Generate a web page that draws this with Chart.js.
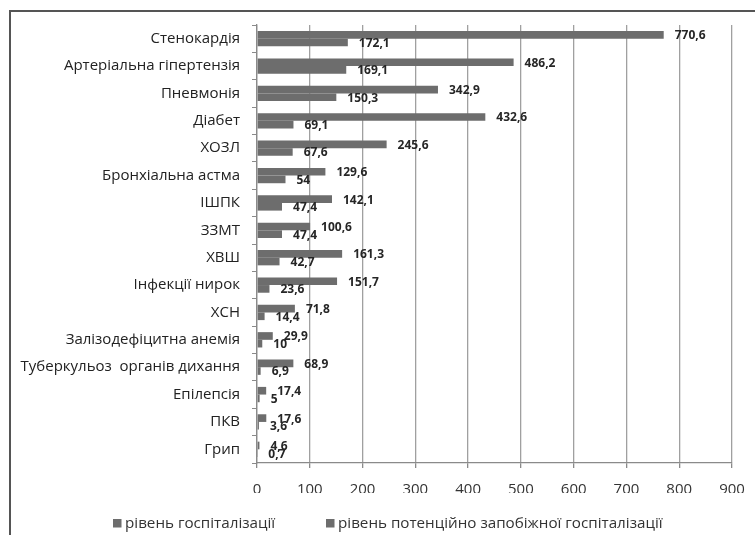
<!DOCTYPE html>
<html>
<head>
<meta charset="utf-8">
<script src="https://cdn.jsdelivr.net/npm/chart.js@4.4.1/dist/chart.umd.min.js"></script>
<style>
html,body{margin:0;padding:0;background:#fff;}
#wrap{position:relative;width:755px;height:535px;overflow:hidden;}
#frame{position:absolute;left:9px;top:10px;width:800px;height:600px;border-top:2px solid #555;border-left:2px solid #555;pointer-events:none;}
canvas{position:absolute;left:0;top:0;}
</style>
</head>
<body>
<div id="wrap">
<canvas id="c" width="755" height="535"></canvas>
<div id="frame"></div>
</div>
<script>
const categories = ["Стенокардія","Артеріальна гіпертензія","Пневмонія","Діабет","ХОЗЛ","Бронхіальна астма","ІШПК","ЗЗМТ","ХВШ","Інфекції нирок","ХСН","Залізодефіцитна анемія","Туберкульоз  органів дихання","Епілепсія","ПКВ","Грип"];
const hospitalization = [770.6,486.2,342.9,432.6,245.6,129.6,142.1,100.6,161.3,151.7,71.8,29.9,68.9,17.4,17.6,4.6];
const preventable = [172.1,169.1,150.3,69.1,67.6,54,47.4,47.4,42.7,23.6,14.4,10,6.9,5,3.6,0.7];
const seriesNames = ["рівень госпіталізації","рівень потенційно запобіжної госпіталізації"];
const xTicks = [0,100,200,300,400,500,600,700,800,900];

const FONT = "'Open Sans', 'Noto Sans', sans-serif";
const BAR = "#6d6d6d";

const valueLabels = {
  id: 'valueLabels',
  afterDatasetsDraw(chart) {
    const ctx = chart.ctx;
    ctx.save();
    ctx.font = "bold 12px " + FONT;
    ctx.fillStyle = "#262626";
    ctx.textAlign = "left";
    ctx.textBaseline = "middle";
    chart.data.datasets.forEach((ds, di) => {
      const meta = chart.getDatasetMeta(di);
      meta.data.forEach((el, i) => {
        const txt = String(ds.data[i]).replace('.', ',');
        ctx.fillText(txt, el.x + 11, el.y + 1);
      });
    });
    ctx.restore();
  }
};

// legend drawn below the x axis, items placed like the reference
const legendPlugin = {
  id: 'customLegend',
  afterDraw(chart) {
    const ctx = chart.ctx;
    const starts = [113, 326];
    const y = 523;
    ctx.save();
    ctx.font = "15.2px " + FONT;
    ctx.textBaseline = "middle";
    ctx.textAlign = "left";
    chart.data.datasets.forEach((ds, i) => {
      ctx.fillStyle = ds.backgroundColor;
      ctx.fillRect(starts[i], y - 4, 8.5, 8.5);
      ctx.fillStyle = "#333";
      ctx.fillText(ds.label, starts[i] + 12, y + 1);
    });
    ctx.restore();
  }
};

new Chart(document.getElementById('c'), {
  type: 'bar',
  data: {
    labels: categories,
    datasets: [
      { label: seriesNames[0], data: hospitalization, backgroundColor: BAR, borderWidth: 0 },
      { label: seriesNames[1], data: preventable, backgroundColor: BAR, borderWidth: 0 }
    ]
  },
  options: {
    indexAxis: 'y',
    responsive: false,
    animation: false,
    devicePixelRatio: 1,
    layout: { padding: { top: 25, right: 23, bottom: 42, left: 0 } },
    datasets: { bar: { categoryPercentage: 0.56, barPercentage: 1 } },
    scales: {
      x: {
        min: 0, max: 900,
        afterBuildTicks(axis) { axis.ticks = xTicks.map(v => ({ value: v })); },
        afterFit(axis) { axis.height = 30; axis.paddingRight = 0; axis.paddingLeft = 0; },
        grid: { color: "#a0a0a0", lineWidth: 1.3, drawTicks: true, tickLength: 5, tickColor: "#8a8a8a" },
        border: { color: "#8a8a8a", width: 1.3 },
        ticks: { color: "#333", font: { family: FONT, size: 15 }, padding: 13, maxRotation: 0 }
      },
      y: {
        afterFit(axis) { axis.width = 257; },
        grid: { drawOnChartArea: false, drawTicks: true, tickLength: 5, tickColor: "#8a8a8a", offset: true },
        border: { color: "#8a8a8a", width: 1.3 },
        ticks: { color: "#222", font: { family: FONT, size: 15 }, padding: 12, autoSkip: false }
      }
    },
    plugins: {
      legend: { display: false },
      tooltip: { enabled: false },
      title: { display: false }
    }
  },
  plugins: [valueLabels, legendPlugin]
});
</script>
</body>
</html>
